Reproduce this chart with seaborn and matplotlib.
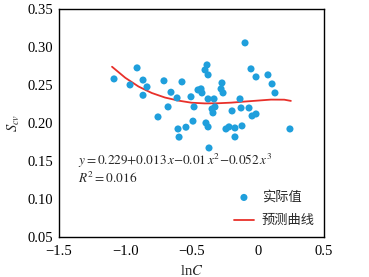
import numpy as np
import pandas as pd
import seaborn as sns
import matplotlib
matplotlib.use('Agg')
import matplotlib.pyplot as plt

# measured points (lnC, S_cv)
ln_c = [-1.085, -0.964, -0.911, -0.866, -0.836, -0.866, -0.753, -0.708, -0.655, -0.677,
        -0.609, -0.572, -0.602, -0.594, -0.542, -0.504, -0.489, -0.481, -0.451, -0.428,
        -0.421, -0.398, -0.383, -0.375, -0.391, -0.375, -0.375, -0.368, -0.345, -0.330,
        -0.338, -0.323, -0.270, -0.277, -0.262, -0.240, -0.217, -0.172, -0.172, -0.194,
        -0.134, -0.126, -0.119, -0.096, -0.051, -0.013, -0.066, -0.043, -0.013, 0.077,
        0.108, 0.130, 0.243]
s_cv = [0.2575, 0.2496, 0.272, 0.256, 0.247, 0.236, 0.2075, 0.255, 0.240, 0.2207,
        0.2325, 0.2536, 0.1917, 0.181, 0.194, 0.234, 0.202, 0.2207, 0.243, 0.2444,
        0.2391, 0.2693, 0.2759, 0.2628, 0.1996, 0.1944, 0.2312, 0.1667, 0.2180, 0.2312,
        0.2128, 0.2207, 0.2522, 0.2444, 0.2391, 0.1917, 0.1944, 0.1930, 0.1812, 0.2154,
        0.2312, 0.2193, 0.1957, 0.3049, 0.2707, 0.2601, 0.2193, 0.2088, 0.2114, 0.2628,
        0.2509, 0.2391, 0.1917]

# prediction curve
curve_x = [-1.1, -1.0, -0.9, -0.8, -0.7, -0.6, -0.5, -0.4, -0.3, -0.2, -0.1, 0.0, 0.1, 0.2, 0.25]
curve_y = [0.2735, 0.259, 0.2475, 0.239, 0.233, 0.229, 0.2262, 0.2253, 0.2255, 0.2263,
           0.2277, 0.229, 0.2303, 0.2302, 0.2286]

sns.set_style('white')
plt.rcParams['font.family'] = ['Liberation Serif', 'Noto Sans CJK SC']
plt.rcParams['mathtext.fontset'] = 'stix'

fig = plt.figure(figsize=(3.69, 2.77), dpi=100)
ax = fig.add_axes([0.160, 0.1455, 0.718, 0.8235])

pts = pd.DataFrame({'x': ln_c, 'y': s_cv})
sns.scatterplot(data=pts, x='x', y='y', ax=ax, color='#1f9fdc', s=26,
                edgecolor='none', label='实际值', zorder=3)
sns.lineplot(x=curve_x, y=curve_y, ax=ax, color='#e8302a', lw=1.3,
             label='预测曲线', zorder=2)

ax.set_xlim(-1.5, 0.5)
ax.set_ylim(0.05, 0.35)
ax.set_xticks([-1.5, -1.0, -0.5, 0, 0.5])
ax.set_xticklabels(['\u22121.5', '\u22121.0', '\u22120.5', '0', '0.5'])
ax.set_yticks(np.arange(0.05, 0.351, 0.05))
ax.set_yticklabels([f'{v:.2f}' for v in np.arange(0.05, 0.351, 0.05)])
ax.tick_params(direction='in', length=3, width=0.8, labelsize=10.5, colors='black')
ax.tick_params(axis='x', pad=6)
ax.tick_params(axis='y', pad=4)
for sp in ax.spines.values():
    sp.set_color('black')
    sp.set_linewidth(1.0)

ax.set_xlabel(r'ln$C$', fontsize=10.5, labelpad=4)
ax.set_ylabel(r'$S_{cv}$', fontsize=10.5, labelpad=4)

ax.text(0.07, 0.33, r'$y=0.229{+}0.013\,x{-}0.01\,x^2{-}0.052\,x^3$',
        transform=ax.transAxes, fontsize=9.5, va='center')
ax.text(0.07, 0.255, r'$R^2=0.016$', transform=ax.transAxes, fontsize=9.5, va='center')

ax.legend(loc='lower right', frameon=False, handlelength=1.5,
          handletextpad=0.6, borderaxespad=0.3, labelspacing=0.8,
          prop={'family': ['Noto Sans CJK SC'], 'size': 9.5})

fig.savefig('out.png', dpi=100)
